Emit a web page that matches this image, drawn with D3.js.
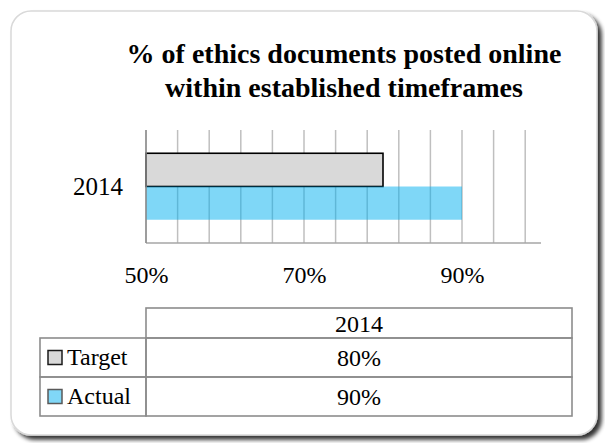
<!DOCTYPE html>
<html>
<head>
<meta charset="utf-8">
<script src="https://cdn.jsdelivr.net/npm/d3@7"></script>
<style>
  html, body { margin: 0; padding: 0; background: #ffffff; }
  svg { display: block; }
</style>
</head>
<body>
<svg id="chart" width="605" height="443"></svg>
<script>
// Chart data
const titleLines = ["% of ethics documents posted online", "within established timeframes"];
const categories = ["2014"];
const seriesNames = ["Target", "Actual"];
const targetValues = [0.80];
const actualValues = [0.90];
const tickLabels = [0.50, 0.70, 0.90];
const gridValues = [0.50, 0.54, 0.58, 0.62, 0.66, 0.70, 0.74, 0.78, 0.82, 0.86, 0.90, 0.94, 0.98];

const seriesValues = { Target: targetValues, Actual: actualValues };
const seriesStyle = {
  Target: { fill: "#d9d9d9", opacity: 1, stroke: "#000000", strokeWidth: 1.6 },
  Actual: { fill: "#00b0f0", opacity: 0.5, stroke: "none", strokeWidth: 0 }
};
const keyStyle = {
  Target: { fill: "#d9d9d9", stroke: "#1a1a1a" },
  Actual: { fill: "#80d7f7", stroke: "#595959" }
};

const SERIF = "\"Liberation Serif\"";

const svg = d3.select("#chart");
const pct = d3.format(".0%");

// Card frame with soft drop shadow
const defs = svg.append("defs");
const f = defs.append("filter").attr("id", "shadow")
  .attr("x", "-5%").attr("y", "-5%").attr("width", "115%").attr("height", "115%");
f.append("feGaussianBlur").attr("in", "SourceAlpha").attr("stdDeviation", 2.2).attr("result", "b");
f.append("feOffset").attr("in", "b").attr("dx", 4).attr("dy", 4).attr("result", "o");
f.append("feComponentTransfer").attr("in", "o").attr("result", "s")
  .append("feFuncA").attr("type", "linear").attr("slope", 0.8);
const fm = f.append("feMerge");
fm.append("feMergeNode").attr("in", "s");
fm.append("feMergeNode").attr("in", "SourceGraphic");

svg.append("rect")
  .attr("x", 11).attr("y", 11).attr("width", 586).attr("height", 424)
  .attr("rx", 20).attr("ry", 20)
  .attr("fill", "#ffffff").attr("stroke", "#d9d9d9").attr("stroke-width", 1.5)
  .attr("filter", "url(#shadow)");

// Title
svg.append("text")
  .attr("x", 344).attr("y", 63)
  .attr("text-anchor", "middle")
  .style("font-family", SERIF)
  .style("font-size", "28px").style("font-weight", "bold")
  .selectAll("tspan").data(titleLines).join("tspan")
  .attr("x", 344).attr("dy", (d, i) => i === 0 ? 0 : 34)
  .text(d => d);

// Scales
const plot = { left: 146, right: 541, top: 130, bottom: 243 };
const x = d3.scaleLinear().domain([0.5, 1.0]).range([plot.left, plot.right]);
const yCat = d3.scaleBand().domain(categories).range([plot.top, plot.bottom]);
const ySer = d3.scaleBand().domain(seriesNames).range([0, yCat.bandwidth()]).paddingOuter(0.7).paddingInner(0);

// Vertical gridlines
svg.append("g").selectAll("line").data(gridValues).join("line")
  .attr("x1", d => x(d)).attr("x2", d => x(d))
  .attr("y1", plot.top).attr("y2", plot.bottom)
  .attr("stroke", "#bfbfbf").attr("stroke-width", 1.5);

// Bars
const barRows = [];
categories.forEach((c, ci) => seriesNames.forEach(s => barRows.push({ cat: c, series: s, value: seriesValues[s][ci] })));
svg.append("g").selectAll("rect").data(barRows).join("rect")
  .attr("x", x(0.5))
  .attr("y", d => yCat(d.cat) + ySer(d.series))
  .attr("width", d => x(d.value) - x(0.5))
  .attr("height", ySer.bandwidth())
  .attr("fill", d => seriesStyle[d.series].fill)
  .attr("fill-opacity", d => seriesStyle[d.series].opacity)
  .attr("stroke", d => seriesStyle[d.series].stroke)
  .attr("stroke-width", d => seriesStyle[d.series].strokeWidth);

// Axis lines
svg.append("line")
  .attr("x1", plot.left).attr("x2", plot.right)
  .attr("y1", plot.bottom).attr("y2", plot.bottom)
  .attr("stroke", "#a6a6a6").attr("stroke-width", 1.5);
svg.append("line")
  .attr("x1", plot.left).attr("x2", plot.left)
  .attr("y1", plot.top).attr("y2", plot.bottom)
  .attr("stroke", "#8c8c8c").attr("stroke-width", 1.5);

// Value axis labels
const xAxis = d3.axisBottom(x).tickValues(tickLabels).tickFormat(pct).tickSize(0).tickPadding(0);
const gx = svg.append("g").attr("transform", `translate(0,${plot.bottom})`).call(xAxis);
gx.select(".domain").remove();
gx.selectAll("text").attr("dy", null).attr("y", 40).attr("fill", "#000")
  .style("font-family", SERIF).style("font-size", "24px");

// Category axis label
const yAxis = d3.axisLeft(yCat).tickSize(0).tickPadding(0);
const gy = svg.append("g").attr("transform", `translate(123,0)`).call(yAxis);
gy.select(".domain").remove();
gy.selectAll("text").attr("x", 0).attr("dy", "0.32em").attr("fill", "#000")
  .style("font-family", SERIF).style("font-size", "25px");

// Data table below the chart
const table = { keyLeft: 40, colLeft: 146, right: 572, rows: [308, 338, 377, 416] };
const tg = svg.append("g").attr("stroke", "#8c8c8c").attr("stroke-width", 1.6).attr("fill", "none");
tg.append("rect").attr("x", table.colLeft).attr("y", table.rows[0])
  .attr("width", table.right - table.colLeft).attr("height", table.rows[1] - table.rows[0]);
seriesNames.forEach((s, i) => {
  tg.append("rect").attr("x", table.keyLeft).attr("y", table.rows[i + 1])
    .attr("width", table.colLeft - table.keyLeft).attr("height", table.rows[i + 2] - table.rows[i + 1]);
  tg.append("rect").attr("x", table.colLeft).attr("y", table.rows[i + 1])
    .attr("width", table.right - table.colLeft).attr("height", table.rows[i + 2] - table.rows[i + 1]);
});

const colCenter = (table.colLeft + table.right) / 2;
const cellText = sel => sel.style("font-family", SERIF).style("font-size", "24px").attr("fill", "#000");

svg.append("text").attr("x", colCenter).attr("y", table.rows[1] - 6)
  .attr("text-anchor", "middle").call(cellText).text(categories[0]);

seriesNames.forEach((s, i) => {
  const top = table.rows[i + 1], bot = table.rows[i + 2];
  const mid = (top + bot) / 2;
  svg.append("rect")
    .attr("x", 48).attr("y", mid - 7).attr("width", 14).attr("height", 14)
    .attr("fill", keyStyle[s].fill).attr("stroke", keyStyle[s].stroke).attr("stroke-width", 1.5);
  svg.append("text").attr("x", 67).attr("y", bot - 12).call(cellText).text(s);
  svg.append("text").attr("x", colCenter).attr("y", bot - 11)
    .attr("text-anchor", "middle").call(cellText).text(pct(seriesValues[s][0]));
});
</script>
</body>
</html>
